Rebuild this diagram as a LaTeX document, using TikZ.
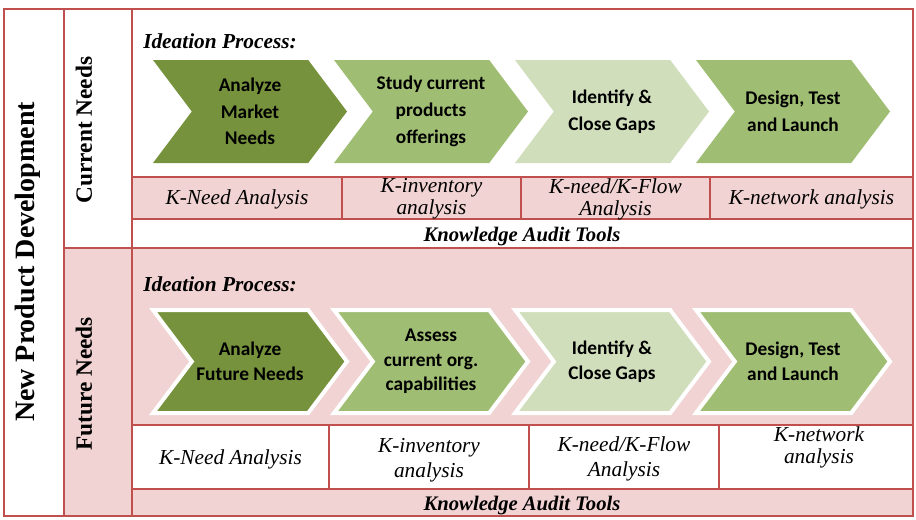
\documentclass[tikz,border=0pt]{standalone}
\usepackage{fontspec}
\setmainfont{Liberation Serif}
\newfontfamily\calibfont{Carlito}
\usetikzlibrary{shapes.symbols}
\definecolor{redline}{HTML}{C0504D}
\definecolor{pinkfill}{HTML}{F0D3D2}
\definecolor{olivedark}{HTML}{76923C}
\definecolor{olivemid}{HTML}{A0BE73}
\definecolor{olivelight}{HTML}{D0DEBC}
\tikzset{
grid/.style={
  draw=redline,
  line width=1.5pt},
chevron/.style={
  signal,
  signal to=east,
  signal from=west,
  signal pointer angle=106,
  minimum width=145.5pt,
  minimum height=77.25pt,
  inner sep=0pt,
  align=center},
toptext/.style={font=\calibfont\bfseries\fontsize{14.5}{20}\selectfont},
lowtext/.style={font=\calibfont\bfseries\fontsize{14.5}{18.5}\selectfont, draw=white, line width=3pt},
ktool/.style={inner sep=0pt, align=center, font=\itshape\fontsize{16}{16.5}\selectfont},
ktoollow/.style={inner sep=0pt, align=center, font=\itshape\fontsize{16}{18.75}\selectfont},
heading/.style={inner sep=0pt, font=\bfseries\itshape\fontsize{16}{18}\selectfont},
audit/.style={inner sep=0pt, font=\bfseries\itshape\fontsize{15.5}{17}\selectfont},
sidetext/.style={inner sep=0pt, rotate=90, font=\bfseries\fontsize{17.5}{20}\selectfont}
}
\begin{document}
\begin{tikzpicture}[x=0.75pt, y=-0.75pt]
    \useasboundingbox (0,0) rectangle (916,519);
    % left columns
    \draw[grid, fill=white] (4,9) rectangle (64,516);
    \draw[grid, fill=white] (64,9) rectangle (132,248);
    \draw[grid, fill=pinkfill] (64,248) rectangle (132,516);
    % current needs block
    \draw[grid, fill=white] (132,9) rectangle (913,177);
    \draw[grid, fill=pinkfill] (132,177) rectangle (342,219);
    \draw[grid, fill=pinkfill] (342,177) rectangle (521,219);
    \draw[grid, fill=pinkfill] (521,177) rectangle (710,219);
    \draw[grid, fill=pinkfill] (710,177) rectangle (913,219);
    \draw[grid, fill=white] (132,219) rectangle (913,248);
    % future needs block
    \draw[grid, fill=pinkfill] (132,248) rectangle (913,425);
    \draw[grid, fill=white] (132,425) rectangle (329,489);
    \draw[grid, fill=white] (329,425) rectangle (529,489);
    \draw[grid, fill=white] (529,425) rectangle (719,489);
    \draw[grid, fill=white] (719,425) rectangle (913,489);
    \draw[grid, fill=pinkfill] (132,489) rectangle (913,516);

    \node[sidetext, font=\bfseries\fontsize{21}{24}\selectfont] (npd) at (28,262) {New Product Development};
    \node[sidetext] (curneeds) at (84,130) {Current Needs};
    \node[sidetext] (futneeds) at (84,384) {Future Needs};

    \node[heading, anchor=base west] (idea1) at (143,48) {Ideation Process:};
    \node[chevron, toptext, fill=olivedark] (anmkt) at (250,111.5) {Analyze\\Market\\Needs};
    \node[chevron, toptext, fill=olivemid] (study) at (431,111.5) {Study current\\products\\offerings};
    \node[chevron, toptext, fill=olivelight] (gaps1) at (612,111.5) {Identify \&\\Close Gaps};
    \node[chevron, toptext, fill=olivemid] (launch1) at (793,111.5) {Design, Test\\and Launch};

    \node[ktool] (kneed1) at (237,199) {K-Need Analysis};
    \node[ktool] (kinv1) at (431.5,199) {K-inventory\\analysis};
    \node[ktool] (kflow1) at (615.5,199) {K-need/K-Flow\\Analysis};
    \node[ktool] (knet1) at (811.5,199) {K-network analysis};
    \node[audit] (audit1) at (522,237) {Knowledge Audit Tools};

    \node[heading, anchor=base west] (idea2) at (143,291) {Ideation Process:};
    \node[chevron, lowtext, fill=olivedark] (anfut) at (250,361.5) {Analyze\\Future Needs};
    \node[chevron, lowtext, fill=olivemid] (assess) at (431,361.5) {Assess\\current org.\\capabilities};
    \node[chevron, lowtext, fill=olivelight] (gaps2) at (612,361.5) {Identify \&\\Close Gaps};
    \node[chevron, lowtext, fill=olivemid] (launch2) at (793,361.5) {Design, Test\\and Launch};

    \node[ktoollow] (kneed2) at (230.5,459) {K-Need Analysis};
    \node[ktoollow] (kinv2) at (429,460) {K-inventory\\analysis};
    \node[ktoollow] (kflow2) at (624,459) {K-need/K-Flow\\Analysis};
    \node[ktool] (knet2) at (819,447) {K-network\\analysis};
    \node[audit] (audit2) at (522,506) {Knowledge Audit Tools};
\end{tikzpicture}
\end{document}
